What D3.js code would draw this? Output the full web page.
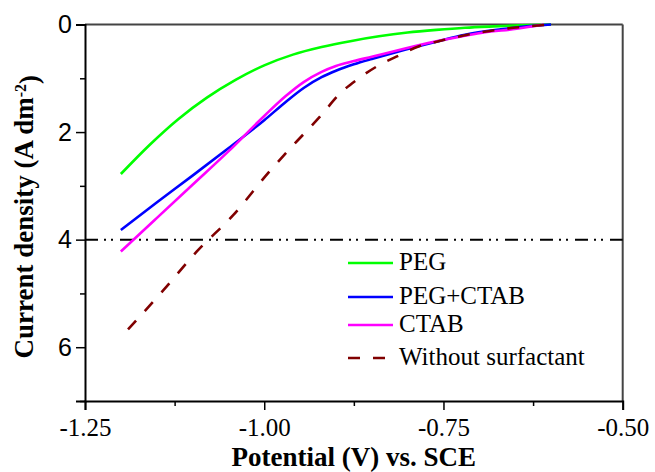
<!DOCTYPE html>
<html>
<head>
<meta charset="utf-8">
<script src="https://cdn.jsdelivr.net/npm/d3@7"></script>
<style>
  body { margin: 0; background: #fff; }
  svg { display: block; }
</style>
</head>
<body>
<div id="chart"></div>
<script>
// potential (V vs. SCE) and current density (A dm-2)
const pegV = [-1.20, -1.16, -1.12, -1.08, -1.04, -1.00, -0.96, -0.92, -0.88, -0.84, -0.80, -0.76, -0.72, -0.68, -0.64, -0.60];
const pegJ = [2.78, 2.24, 1.76, 1.36, 1.03, 0.76, 0.56, 0.42, 0.31, 0.22, 0.15, 0.10, 0.06, 0.035, 0.015, 0];

const pegCtabV = [-1.20, -1.15, -1.10, -1.05, -1.00, -0.97, -0.945, -0.92, -0.90, -0.875, -0.85, -0.83, -0.805, -0.785, -0.76, -0.72, -0.67, -0.63, -0.60];
const pegCtabJ = [3.82, 3.31, 2.81, 2.30, 1.78, 1.44, 1.18, 0.98, 0.86, 0.74, 0.64, 0.565, 0.475, 0.405, 0.32, 0.19, 0.09, 0.03, 0];

const ctabV = [-1.20, -1.15, -1.10, -1.05, -1.00, -0.97, -0.945, -0.92, -0.90, -0.875, -0.85, -0.83, -0.805, -0.785, -0.76, -0.72, -0.694, -0.648, -0.61];
const ctabJ = [4.22, 3.60, 2.98, 2.36, 1.70, 1.33, 1.07, 0.88, 0.77, 0.68, 0.60, 0.535, 0.45, 0.385, 0.31, 0.21, 0.15, 0.08, 0];

const noSurfV = [-1.19, -1.14, -1.094, -1.043, -0.992, -0.96, -0.922, -0.894, -0.871, -0.843, -0.811, -0.785, -0.75, -0.72, -0.67, -0.60];
const noSurfJ = [5.67, 4.93, 4.22, 3.54, 2.72, 2.25, 1.71, 1.28, 1.03, 0.78, 0.57, 0.41, 0.29, 0.20, 0.09, 0];

const seriesNames = ["PEG", "PEG+CTAB", "CTAB", "Without surfactant"];
const seriesColors = ["#00ff00", "#0000ff", "#ff00ff", "#800000"];

const xTicks = [-1.25, -1.00, -0.75, -0.50];
const xMinorTicks = [-1.125, -0.875, -0.625];
const yTicks = [0, 2, 4, 6];
const yMinorTicks = [1, 3, 5, 7];
const refLevel = 4;

const width = 655;
const height = 472;
const plot = { left: 85, right: 622.7, top: 24.5, bottom: 401 };

const x = d3.scaleLinear().domain([-1.25, -0.5]).range([plot.left, plot.right]);
const y = d3.scaleLinear().domain([0, 7]).range([plot.top, plot.bottom]);

const svg = d3
  .select("#chart")
  .append("svg")
  .attr("width", width)
  .attr("height", height);

const toPoints = (vs, js) => vs.map((v, i) => ({ v, j: js[i] }));
const series = [
  toPoints(pegV, pegJ),
  toPoints(pegCtabV, pegCtabJ),
  toPoints(ctabV, ctabJ),
  toPoints(noSurfV, noSurfJ),
];

// frame: top / right in grey
svg
  .append("line")
  .attr("x1", plot.left)
  .attr("x2", plot.right)
  .attr("y1", plot.top)
  .attr("y2", plot.top)
  .attr("stroke", "#444")
  .attr("stroke-width", 2);
svg
  .append("line")
  .attr("x1", plot.right)
  .attr("x2", plot.right)
  .attr("y1", plot.top)
  .attr("y2", plot.bottom)
  .attr("stroke", "#444")
  .attr("stroke-width", 2);

// dash-dot-dot reference line at 4 A dm-2
svg
  .append("line")
  .attr("x1", plot.left)
  .attr("x2", plot.right)
  .attr("y1", y(refLevel))
  .attr("y2", y(refLevel))
  .attr("stroke", "#000")
  .attr("stroke-width", 2)
  .attr("stroke-dasharray", "13,6,2,5,2,7");

const line = d3
  .line()
  .x((d) => x(d.v))
  .y((d) => y(d.j))
  .curve(d3.curveMonotoneX);

series.forEach((pts, i) => {
  svg
    .append("path")
    .datum(pts)
    .attr("d", line)
    .attr("fill", "none")
    .attr("stroke", seriesColors[i])
    .attr("stroke-width", 2.6)
    .attr("stroke-dasharray", i === 3 ? "12,13" : null);
});

// axes
const xAxis = svg
  .append("g")
  .attr("transform", `translate(0,${plot.bottom})`)
  .call(
    d3
      .axisBottom(x)
      .tickValues(xTicks)
      .tickSize(9)
      .tickPadding(8)
      .tickFormat((d) => d.toFixed(2))
  );
svg
  .append("g")
  .attr("transform", `translate(0,${plot.bottom})`)
  .call(d3.axisBottom(x).tickValues(xMinorTicks).tickSize(5).tickFormat(""))
  .call((g) => g.select(".domain").remove());

const yAxis = svg
  .append("g")
  .attr("transform", `translate(${plot.left},0)`)
  .call(
    d3
      .axisLeft(y)
      .tickValues(yTicks)
      .tickSize(9)
      .tickPadding(4)
      .tickFormat((d) => String(d))
  );
svg
  .append("g")
  .attr("transform", `translate(${plot.left},0)`)
  .call(d3.axisLeft(y).tickValues(yMinorTicks).tickSize(5).tickFormat(""))
  .call((g) => g.select(".domain").remove());

svg.selectAll(".domain").attr("stroke", "#000").attr("stroke-width", 2);
svg.selectAll(".tick line").attr("stroke", "#000").attr("stroke-width", 1.5);

xAxis
  .selectAll("text")
  .attr("fill", "#000")
  .style("font-family", "'Liberation Serif', 'Times New Roman', serif")
  .style("font-size", "25px");

yAxis
  .selectAll("text")
  .attr("fill", "#000")
  .style("font-family", "'Liberation Sans', Arial, sans-serif")
  .style("font-size", "25px");

// axis titles
svg
  .append("text")
  .attr("x", (plot.left + plot.right) / 2)
  .attr("y", 466)
  .attr("text-anchor", "middle")
  .style("font-family", "'Liberation Serif', 'Times New Roman', serif")
  .style("font-weight", "bold")
  .style("font-size", "27px")
  .text("Potential (V) vs. SCE");

const yTitle = svg
  .append("text")
  .attr("transform", `translate(33,${(plot.top + plot.bottom) / 2 + 4}) rotate(-90)`)
  .attr("text-anchor", "middle")
  .style("font-family", "'Liberation Serif', 'Times New Roman', serif")
  .style("font-weight", "bold")
  .style("font-size", "27px");
yTitle.append("tspan").text("Current density (A dm");
yTitle
  .append("tspan")
  .attr("dy", "-0.45em")
  .style("font-size", "16px")
  .text("-2");
yTitle.append("tspan").attr("dy", "0.45em").text(")");

// legend
const legendRows = [270, 304, 332, 365];
const legend = svg.append("g");
seriesNames.forEach((name, i) => {
  const row = legend.append("g").attr("transform", `translate(0,${legendRows[i]})`);
  row
    .append("line")
    .attr("x1", 348)
    .attr("x2", 393)
    .attr("y1", -7)
    .attr("y2", -7)
    .attr("stroke", seriesColors[i])
    .attr("stroke-width", 2.6)
    .attr("stroke-dasharray", i === 3 ? "12,13" : null);
  row
    .append("text")
    .attr("x", 399)
    .attr("y", 0)
    .style("font-family", "'Liberation Serif', 'Times New Roman', serif")
    .style("font-size", "25px")
    .text(name);
});
</script>
</body>
</html>
